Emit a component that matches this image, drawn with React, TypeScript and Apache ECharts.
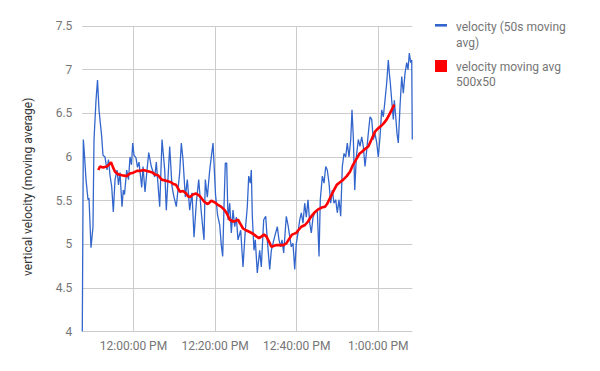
import React, { useEffect, useRef } from "react";
import * as echarts from "echarts";

// minutes relative to 12:00:00 PM
const blueTimes = [
  -12.55, -12.3, -12.13, -11.64, -11.15, -10.91, -10.42, -9.93, -9.68, -9.19, -8.82, -8.46, -7.79, -7.48, -6.99, -6.5,
  -6.13, -5.76, -5.34, -4.95, -4.53, -4.04, -3.68, -3.31, -2.82, -2.5, -2.21, -1.67, -1.23, -0.86, -0.49, -0.2, 0.12,
  0.61, 0.98, 1.35, 2.01, 2.33, 2.82, 3.31, 3.73, 4.36, 5.2, 5.59, 6.42, 6.99, 7.65, 8.04, 8.87, 9.44, 9.93, 10.49,
  11.32, 11.72, 12.13, 12.7, 13.19, 13.77, 14.34, 14.83, 15.39, 15.98, 16.62, 17.28, 17.6, 18.09, 18.68, 19.07, 19.49,
  20.1, 20.59, 21.13, 21.52, 21.86, 22.18, 22.5, 22.84, 23.16, 23.58, 23.97, 24.39, 24.8, 25.2, 25.61, 26.27, 26.84,
  27.4, 27.89, 28.24, 28.63, 28.87, 29.12, 29.53, 29.85, 30.34, 30.93, 31.32, 31.91, 32.4, 32.79, 33.38, 33.78, 34.19,
  34.61, 35.25, 35.66, 36.08, 36.4, 36.81, 37.45, 37.87, 38.28, 38.68, 39.09, 39.51, 39.9, 40.32, 40.74, 41.13, 41.54,
  41.96, 42.35, 42.77, 43.19, 43.58, 44.0, 44.41, 45.05, 45.47, 45.78, 46.28, 46.69, 47.11, 47.5, 47.92, 48.33, 48.73,
  49.14, 49.56, 49.95, 50.37, 50.78, 51.18, 51.59, 52.01, 52.4, 52.82, 53.24, 53.55, 53.87, 54.22, 54.61, 55.1, 55.51,
  55.93, 56.32, 56.74, 57.16, 57.55, 57.97, 58.38, 58.78, 59.19, 59.61, 60.0, 60.42, 60.83, 61.23, 61.64, 62.06, 62.45,
  62.7, 62.94, 63.28, 63.68, 63.92, 64.27, 64.58, 64.9, 65.32, 65.74, 66.13, 66.55, 66.96, 67.28, 67.6, 67.94, 68.19,
  68.33,
];
const blueValues = [
  4.0, 6.2, 6.1, 5.74, 5.51, 5.53, 4.96, 5.2, 6.2, 6.65, 6.88, 6.54, 6.23, 6.02, 6.0, 5.85, 5.97, 5.79, 5.66, 5.37,
  5.74, 5.85, 5.68, 5.82, 5.43, 5.62, 5.57, 5.85, 5.74, 6.0, 5.91, 6.16, 6.02, 5.99, 5.88, 5.94, 5.65, 5.89, 5.6, 5.85,
  6.05, 5.89, 5.77, 5.94, 5.43, 6.2, 5.85, 5.39, 6.12, 5.66, 5.54, 5.43, 5.82, 6.16, 5.97, 5.54, 5.74, 5.39, 5.59, 5.08,
  5.47, 5.74, 5.36, 5.05, 5.74, 5.54, 5.85, 6.0, 6.16, 5.57, 5.34, 5.22, 4.99, 4.86, 5.43, 5.93, 5.93, 5.28, 5.47, 5.13,
  5.39, 5.2, 5.31, 5.05, 5.16, 4.74, 5.16, 5.43, 5.78, 5.7, 5.85, 5.32, 4.93, 5.05, 4.67, 4.93, 4.74, 5.28, 5.32, 5.05,
  4.71, 4.93, 5.01, 5.09, 5.2, 5.05, 4.97, 5.05, 4.9, 5.32, 5.22, 5.09, 4.97, 5.01, 4.71, 5.01, 5.13, 5.28, 5.36, 5.24,
  5.47, 5.31, 5.51, 5.24, 5.13, 5.31, 5.36, 5.39, 4.86, 5.51, 5.78, 5.7, 5.89, 5.85, 5.7, 5.47, 5.62, 5.47, 5.51, 5.36,
  5.51, 5.32, 5.89, 6.04, 6.0, 6.16, 6.0, 6.2, 6.54, 6.23, 5.62, 6.0, 6.2, 6.12, 6.23, 6.12, 5.89, 6.08, 6.27, 6.46,
  6.43, 6.2, 6.27, 6.16, 6.0, 6.23, 6.54, 6.46, 6.65, 6.85, 7.11, 6.96, 6.85, 6.65, 6.43, 6.65, 6.46, 6.27, 6.16, 6.58,
  6.92, 6.73, 6.96, 7.08, 7.0, 7.19, 7.08, 7.11, 6.2,
];

const redTimes = [
  -8.63, -8.21, -7.48, -6.57, -6.0, -5.51, -5.02, -4.53, -3.73, -2.82, -1.67, -0.86, -0.05, 0.86, 1.59, 2.4, 3.24,
  4.04, 4.66, 5.27, 6.0, 6.91, 7.72, 8.53, 9.19, 9.75, 10.42, 11.4, 12.13, 12.94, 13.36, 13.85, 14.58, 15.32, 16.05,
  16.62, 17.28, 18.09, 18.5, 19.07, 19.9, 20.71, 21.45, 22.35, 22.92, 23.58, 24.39, 25.12, 25.61, 26.23, 26.84, 27.57,
  28.48, 29.29, 30.1, 30.76, 31.42, 31.99, 32.55, 33.21, 33.78, 34.31, 35.0, 35.66, 36.72, 37.45, 38.28, 38.85, 39.9,
  40.39, 41.13, 42.03, 42.77, 43.58, 44.49, 45.29, 46.08, 46.94, 47.43, 48.16, 48.9, 49.8, 50.61, 51.42, 52.26, 53.06,
  53.8, 54.54, 55.44, 56.0, 56.74, 57.55, 58.33, 59.19, 60.0, 60.83, 61.4, 62.06, 62.62, 63.28, 63.92,
];
const redValues = [
  5.85, 5.89, 5.88, 5.89, 5.91, 5.94, 5.88, 5.83, 5.8, 5.79, 5.78, 5.81, 5.82, 5.84, 5.84, 5.85, 5.84, 5.83, 5.82, 5.8,
  5.79, 5.74, 5.73, 5.72, 5.71, 5.69, 5.68, 5.6, 5.61, 5.58, 5.55, 5.54, 5.57, 5.58, 5.56, 5.53, 5.49, 5.46, 5.47, 5.5,
  5.48, 5.45, 5.43, 5.39, 5.35, 5.28, 5.26, 5.27, 5.28, 5.23, 5.18, 5.16, 5.14, 5.12, 5.09, 5.07, 5.09, 5.11, 5.09, 5.03,
  4.97, 4.98, 4.99, 4.99, 4.99, 5.01, 5.07, 5.11, 5.13, 5.16, 5.2, 5.22, 5.26, 5.32, 5.37, 5.4, 5.42, 5.43, 5.46, 5.53,
  5.6, 5.68, 5.71, 5.74, 5.78, 5.83, 5.91, 5.97, 6.04, 6.06, 6.09, 6.12, 6.2, 6.29, 6.33, 6.36, 6.39, 6.43, 6.48, 6.54,
  6.6,
];

const xTickMinutes = [0, 20, 40, 60];
const xMin = -12.55;
const xMax = 68.33;
const yMin = 4;
const yMax = 7.5;
const yStep = 0.5;

const seriesNames = ["velocity (50s moving avg)", "velocity moving avg 500x50"];
const legendLines = [
  "velocity (50s moving\navg)",
  "velocity moving avg\n500x50",
];
const yTitle = "vertical velocity (moving average)";

function fmtTime(m: number): string {
  const total = Math.round(m * 60) + 12 * 3600;
  let h = Math.floor(total / 3600);
  const mm = Math.floor((total % 3600) / 60);
  const ss = total % 60;
  const ampm = h >= 12 ? "PM" : "AM";
  h = h % 12;
  if (h === 0) h = 12;
  const p = (n: number) => (n < 10 ? "0" + n : "" + n);
  return `${h}:${p(mm)}:${p(ss)} ${ampm}`;
}

export default function App() {
  const ref = useRef<HTMLDivElement>(null);
  useEffect(() => {
    if (!ref.current) return;
    const chart = echarts.init(ref.current, null, { renderer: "svg" });
    const font = "Roboto";
    const labelColor = "#757575";
    chart.setOption({
      animation: false,
      backgroundColor: "#ffffff",
      grid: { left: 82.3, right: 187.7, top: 26, bottom: 39.5, containLabel: false },
      xAxis: {
        type: "value",
        min: xMin,
        max: xMax,
        axisLine: { show: false },
        axisTick: { show: false, customValues: xTickMinutes },
        axisLabel: {
          customValues: xTickMinutes,
          formatter: (v: number) => fmtTime(v),
          color: labelColor,
          fontFamily: font,
          fontSize: 12,
          margin: 8,
        },
        splitLine: { show: true, lineStyle: { color: "#cccccc", width: 1 } },
      },
      yAxis: {
        type: "value",
        min: yMin,
        max: yMax,
        interval: yStep,
        axisLine: { show: false },
        axisTick: { show: false },
        axisLabel: { color: labelColor, fontFamily: font, fontSize: 12, margin: 10 },
        splitLine: { show: true, lineStyle: { color: "#cccccc", width: 1 } },
        name: yTitle,
        nameLocation: "middle",
        nameGap: 48,
        nameRotate: 90,
        nameTextStyle: { color: "#333333", fontFamily: font, fontSize: 12, padding: [0, 16, 0, 0] },
      },
      series: [
        {
          name: seriesNames[0],
          type: "line",
          data: blueTimes.map((t, i) => [t, blueValues[i]]),
          showSymbol: false,
          symbol: "none",
          lineStyle: { color: "#3366cc", width: 1.3 },
          itemStyle: { color: "#3366cc" },
        },
        {
          name: seriesNames[1],
          type: "line",
          data: redTimes.map((t, i) => [t, redValues[i]]),
          showSymbol: false,
          symbol: "none",
          lineStyle: { color: "#ff0000", width: 2.6 },
          itemStyle: { color: "#ff0000" },
        },
      ],
      graphic: [
        { type: "rect", shape: { x: 435, y: 24, width: 12, height: 2.6 }, style: { fill: "#3366cc" } },
        {
          type: "text",
          x: 456,
          y: 19.5,
          style: {
            text: legendLines[0],
            fill: labelColor,
            font: `12px ${font}`,
            lineHeight: 15.5,
            textVerticalAlign: "top",
          },
        },
        { type: "rect", shape: { x: 435, y: 60, width: 12, height: 12 }, style: { fill: "#ff0000" } },
        {
          type: "text",
          x: 456,
          y: 59,
          style: {
            text: legendLines[1],
            fill: labelColor,
            font: `12px ${font}`,
            lineHeight: 15.5,
            textVerticalAlign: "top",
          },
        },
      ],
    });
    return () => chart.dispose();
  }, []);
  return (
    <div
      ref={ref}
      style={{ position: "fixed", left: 0, top: 0, width: 600, height: 371, background: "#fff" }}
    />
  );
}
